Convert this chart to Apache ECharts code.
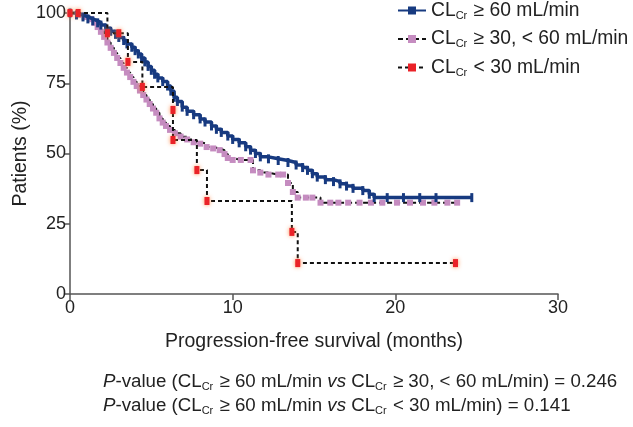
<!DOCTYPE html>
<html><head><meta charset="utf-8">
<script src="https://cdn.jsdelivr.net/npm/echarts@6/dist/echarts.min.js"></script>
<style>html,body{margin:0;padding:0;background:#fff}#c{width:633px;height:427px}</style>
</head><body><div id="c"></div>
<script>
// Series names
const seriesNames = ['CLCr ≥ 60 mL/min', 'CLCr ≥ 30, < 60 mL/min', 'CLCr < 30 mL/min'];
// X ticks (months), Y ticks (%)
const xTicks = [0, 10, 20, 30];
const yTicks = [0, 25, 50, 75, 100];
// Kaplan-Meier step points [month, % patients]
const clcrHigh = [[0,100],[0.4,99.3],[0.8,98.6],[1.1,97.9],[1.4,97.2],[1.7,96.5],[1.9,95.7],[2.2,94.6],[2.5,93.5],[2.8,92.4],[3.0,91.3],[3.3,90.2],[3.5,89],[3.8,87.8],[4.0,86.6],[4.2,85.4],[4.4,84],[4.6,82.6],[4.8,81],[5.0,79.6],[5.2,78.2],[5.4,76.9],[5.7,75.6],[6.0,74],[6.2,72.2],[6.4,70],[6.6,68.5],[6.9,66.5],[7.2,65],[7.6,63.8],[8.0,62.3],[8.3,61.2],[8.7,59.8],[9.0,58.6],[9.3,57.5],[9.7,56.2],[10.0,55],[10.4,53.8],[10.8,52.4],[11.1,51.2],[11.4,50],[11.7,48.8],[12.2,48.1],[12.8,47.5],[13.4,46.8],[13.9,45.9],[14.3,45],[14.6,44],[14.9,42.8],[15.2,41.6],[15.7,40.7],[16.2,40],[16.6,39.2],[17.0,38.4],[17.4,37.6],[18.0,36.8],[18.4,35.5],[18.7,34.3],[19.5,34.3],[20.5,34.3],[21.5,34.3],[22.5,34.3],[24.7,34.3]];
const clcrMid = [[0,100],[0.5,99.3],[0.9,98.6],[1.3,97.8],[1.5,96.5],[1.7,95],[1.9,93.3],[2.1,91.5],[2.3,89.5],[2.5,87.6],[2.7,85.8],[2.9,84],[3.1,82.2],[3.3,80.5],[3.5,78.8],[3.7,77.2],[3.9,75.5],[4.1,74],[4.3,72.4],[4.5,70.8],[4.7,69.2],[4.9,67.6],[5.1,66],[5.3,64.5],[5.5,62.5],[5.7,61],[5.9,59.8],[6.15,58.4],[6.45,57.2],[6.8,56],[7.2,55],[7.6,54],[8.0,53.5],[8.4,52.3],[8.8,51.8],[9.2,51.2],[9.5,49.8],[9.7,48.4],[10.0,47.7],[10.5,47.7],[11.1,47.7],[11.25,44],[11.7,43.2],[12.2,42.5],[12.8,42.5],[13.1,42.5],[13.4,39.5],[13.7,36.3],[14.0,34.3],[14.5,34.3],[14.9,34.3],[15.4,32.5],[16.0,32.5],[16.5,32.5],[17.1,32.5],[17.8,32.5],[18.5,32.5],[19.2,32.5],[20.1,32.5],[20.9,32.5],[21.7,32.5],[22.4,32.5],[23.2,32.5],[23.8,32.5]];
const clcrLow = [[0,100],[0.5,100],[2.3,92.8],[3.0,92.8],[3.56,82.6],[4.45,73.7],[6.33,65.5],[6.33,54.8],[7.8,44.1],[8.42,33.1],[13.64,22.1],[14.0,11],[23.7,11]];
// Annotation lines
const pLines = [
  '{i|P}-value (CL{s|Cr} ≥ 60 mL/min {i|vs} CL{s|Cr} ≥ 30, < 60 mL/min) = 0.246',
  '{i|P}-value (CL{s|Cr} ≥ 60 mL/min {i|vs} CL{s|Cr} < 30 mL/min) = 0.141'
];

const FONT = 'Liberation Sans, Arial, sans-serif';
function rich(size) {
  return {
    s: { fontSize: 11, fontFamily: FONT, color: '#222', padding: [10, 1, 0, 0] },
    i: { fontSize: size, fontFamily: FONT, color: '#222', fontStyle: 'italic' }
  };
}
const chart = echarts.init(document.getElementById('c'));
chart.setOption({
  backgroundColor: '#ffffff',
  animation: false,
  grid: { left: 70, right: 75, top: 13, bottom: 133, outerBoundsMode: 'none', containLabel: false },
  legend: {
    orient: 'vertical', left: 392, top: -4, itemWidth: 28, itemHeight: 10, itemGap: 8.5,
    data: seriesNames,
    formatter: n => n.replace('CLCr', 'CL{s|Cr}'),
    textStyle: { fontSize: 19.3, fontFamily: FONT, color: '#222', rich: rich(19.3) }
  },
  xAxis: {
    type: 'value', min: 0, max: 30, interval: 10,
    name: 'Progression-free survival (months)', nameLocation: 'middle', nameGap: 38,
    nameMoveOverlap: false,
    nameTextStyle: { fontSize: 19.5, fontFamily: FONT, color: '#222' },
    axisLine: { lineStyle: { color: '#555', width: 1.5 } },
    axisTick: { length: 6, lineStyle: { color: '#555', width: 1.5 } },
    axisLabel: { fontSize: 18, fontFamily: FONT, color: '#222', margin: 5,
      customValues: xTicks },
    splitLine: { show: false }
  },
  yAxis: {
    type: 'value', min: 0, max: 100, interval: 25,
    name: 'Patients (%)', nameLocation: 'middle', nameGap: 39, nameRotate: 90,
    nameMoveOverlap: false,
    nameTextStyle: { fontSize: 19.5, fontFamily: FONT, color: '#222' },
    axisLine: { show: true, lineStyle: { color: '#555', width: 1.5 } },
    axisTick: { show: true, length: 6, lineStyle: { color: '#555', width: 1.5 } },
    axisLabel: { fontSize: 18, fontFamily: FONT, color: '#222', margin: 4,
      customValues: yTicks },
    splitLine: { show: false }
  },
  graphic: pLines.map((t, k) => ({
    type: 'text', left: 103, top: 372 + k * 24,
    style: { text: t, fontSize: 18.7, fontFamily: FONT, fill: '#222', rich: rich(18.7) }
  })),
  series: [
    {
      name: seriesNames[1], type: 'line', step: 'end', data: clcrMid, z: 2,
      showAllSymbol: true, symbol: 'rect', symbolSize: [6, 6],
      itemStyle: { color: '#c58cc0' },
      lineStyle: { color: '#111', width: 2, type: [5, 3] }
    },
    {
      name: seriesNames[0], type: 'line', step: 'end', data: clcrHigh, z: 3,
      showAllSymbol: true, symbol: 'rect', symbolSize: [3, 9],
      itemStyle: { color: '#173a80' },
      lineStyle: { color: '#173a80', width: 3.5 }
    },
    {
      name: seriesNames[2], type: 'line', step: 'end', data: clcrLow, z: 4,
      showAllSymbol: true, symbol: 'rect', symbolSize: [5, 8],
      itemStyle: { color: '#ea2228', shadowBlur: 4, shadowColor: 'rgba(255,130,60,0.9)' },
      lineStyle: { color: '#111', width: 2, type: [4, 3], shadowBlur: 0 }
    }
  ]
});
</script></body></html>
